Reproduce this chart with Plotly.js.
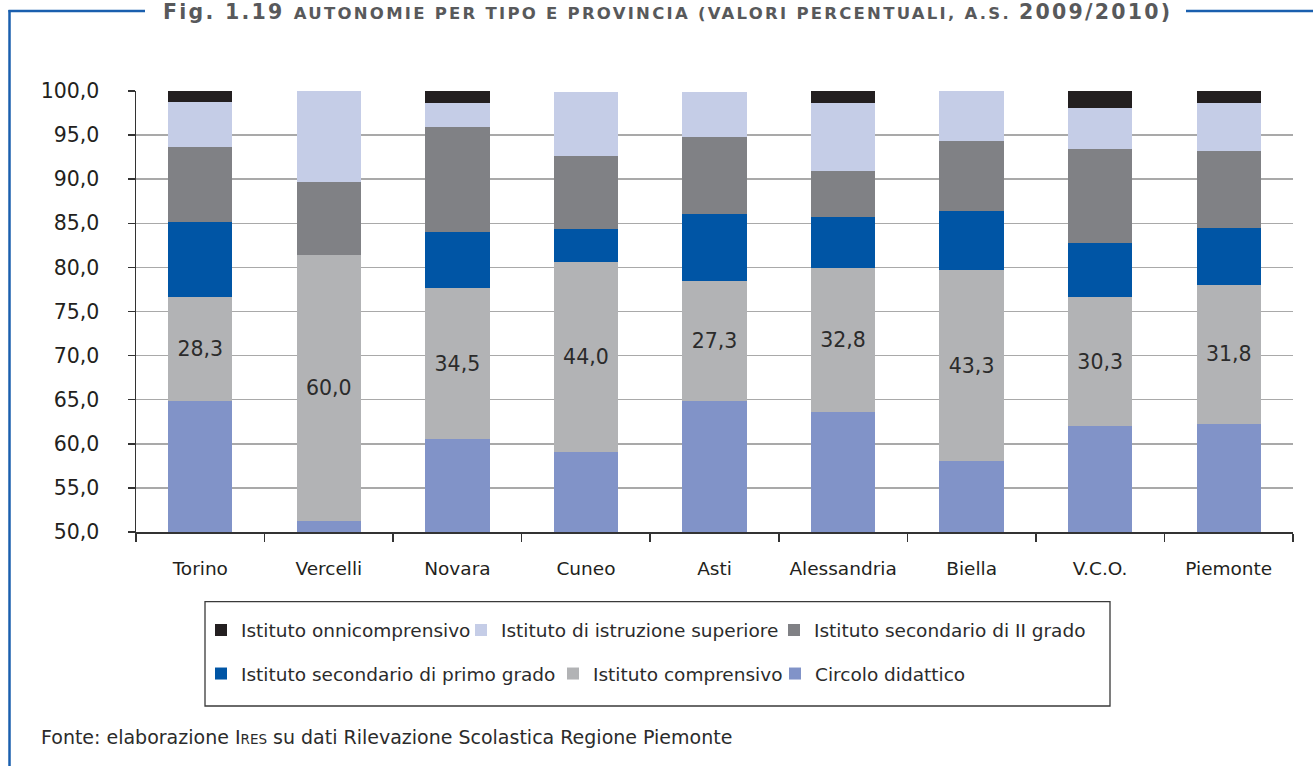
<!DOCTYPE html>
<html>
<head>
<meta charset="utf-8">
<script src="https://cdn.plot.ly/plotly-3.0.1.min.js"></script>
<style>html,body{margin:0;padding:0;background:#fff;}</style>
</head>
<body>
<div id="chart" style="width:1313px;height:766px;"></div>
<script>
// ---- data (stack segments, bottom to top) ----
const categories = ['Torino', 'Vercelli', 'Novara', 'Cuneo', 'Asti', 'Alessandria', 'Biella', 'V.C.O.', 'Piemonte'];
const circoloDidattico      = [64.8, 51.2, 60.5, 59.1, 64.9, 63.6, 58.0, 62.0, 62.3];
const istitutoComprensivo   = [11.8, 30.2, 17.2, 21.5, 13.6, 16.3, 21.7, 14.6, 15.7];
const secondarioPrimoGrado  = [8.5, 0.0, 6.3, 3.8, 7.6, 5.8, 6.7, 6.2, 6.5];
const secondarioIIGrado     = [8.6, 8.3, 11.9, 8.2, 8.7, 5.2, 7.9, 10.6, 8.7];
const istruzioneSuperiore   = [5.0, 10.3, 2.7, 7.3, 5.1, 7.7, 5.7, 4.7, 5.4];
const onnicomprensivo       = [1.4, 0.0, 1.4, 0.0, 0.0, 1.4, 0.0, 1.9, 1.4];
const comprensivoLabels     = [28.3, 60.0, 34.5, 44.0, 27.3, 32.8, 43.3, 30.3, 31.8];
const yTickValues           = [50, 55, 60, 65, 70, 75, 80, 85, 90, 95, 100];

const seriesNames = {
  circolo: 'Circolo didattico',
  comprensivo: 'Istituto comprensivo',
  primo: 'Istituto secondario di primo grado',
  secondo: 'Istituto secondario di II grado',
  iis: 'Istituto di istruzione superiore',
  onni: 'Istituto onnicomprensivo'
};

// ---- geometry helpers ----
const W = 1313, H = 766;
const M = {l: 136, r: 20, t: 91, b: 234};
const PW = W - M.l - M.r, PH = H - M.t - M.b;
const px = x => (x - M.l) / PW;
const py = y => (H - M.b - y) / PH;

const FONT = 'DejaVu Sans, Liberation Sans, sans-serif';
const fmt = v => v.toFixed(1).replace('.', ',');

function bar(name, y, color, legend, extra) {
  return Object.assign({
    type: 'bar', name: name, x: categories, y: y,
    marker: {color: color, line: {width: 0}},
    legend: legend, hoverinfo: 'name+y'
  }, extra || {});
}

const data = [
  bar(seriesNames.circolo, circoloDidattico, '#8193c8', 'legend6'),
  bar(seriesNames.comprensivo, istitutoComprensivo, '#b2b3b5', 'legend5', {
    text: comprensivoLabels.map(fmt),
    textposition: 'inside', insidetextanchor: 'middle', textangle: 0,
    constraintext: 'none',
    textfont: {family: FONT, size: 20.5, color: '#2b2b2b'}
  }),
  bar(seriesNames.primo, secondarioPrimoGrado, '#0055a5', 'legend4'),
  bar(seriesNames.secondo, secondarioIIGrado, '#808185', 'legend3'),
  bar(seriesNames.iis, istruzioneSuperiore, '#c5cde7', 'legend2'),
  bar(seriesNames.onni, onnicomprensivo, '#231f20', 'legend')
];

const frameBlue = '#1a5fae';
const ls = 'letter-spacing:2.25px';
const titleText =
  '<span style="' + ls + '">Fig. 1.19 </span>' +
  '<span style="' + ls + ';font-size:16.5px">AUTONOMIE PER TIPO E PROVINCIA (VALORI PERCENTUALI, A.S. </span>' +
  '<span style="' + ls + '">2009/2010)</span>';

// one legend per entry, placed where the reference legend puts it
function leg(textStartPx, rowCenterPx) {
  return {
    orientation: 'h', xanchor: 'left', yanchor: 'middle',
    x: px(textStartPx - 40), y: py(rowCenterPx),
    bgcolor: 'rgba(0,0,0,0)', borderwidth: 0,
    font: {family: FONT, size: 18.5, color: '#2b2b2b'},
    itemclick: false, itemdoubleclick: false, itemwidth: 30
  };
}
const ROW1 = 630.5, ROW2 = 674;

const layout = {
  width: W, height: H,
  margin: {l: M.l, r: M.r, t: M.t, b: M.b, pad: 0},
  paper_bgcolor: '#ffffff', plot_bgcolor: '#ffffff',
  barmode: 'stack', bargap: 0.5,
  separators: ',.',
  font: {family: FONT, color: '#2b2b2b'},
  showlegend: true,
  title: {
    text: titleText,
    xref: 'container', x: 163 / W, xanchor: 'left',
    yref: 'container', y: 1 - 12 / H, yanchor: 'middle',
    font: {family: FONT, size: 20.5, weight: 700, color: '#58595b'}
  },
  xaxis: {
    type: 'category', tickson: 'boundaries',
    ticks: 'outside', ticklen: 8, tickwidth: 1.5, tickcolor: '#333',
    showline: true, linecolor: '#333', linewidth: 1.5,
    showgrid: false, zeroline: false,
    tickfont: {family: FONT, size: 18.5, color: '#231f20'},
    ticklabelstandoff: 19, fixedrange: true
  },
  yaxis: {
    range: [50, 100], tickvals: yTickValues, tickformat: '.1f',
    ticks: 'outside', ticklen: 7, tickwidth: 1.5, tickcolor: '#333',
    showline: true, linecolor: '#333', linewidth: 1.5,
    showgrid: true, gridcolor: '#a9a9a9', gridwidth: 1.5, zeroline: false,
    tickfont: {family: FONT, size: 20.5, color: '#231f20'},
    ticklabelstandoff: 24, fixedrange: true
  },
  legend:  leg(241, ROW1),
  legend2: leg(501, ROW1),
  legend3: leg(814, ROW1),
  legend4: leg(241, ROW2),
  legend5: leg(593, ROW2),
  legend6: leg(815, ROW2),
  shapes: [
    // legend frame
    {type: 'rect', xref: 'paper', yref: 'paper', x0: px(205), x1: px(1110), y0: py(706), y1: py(601.7),
     line: {color: '#3a3a3a', width: 1.3}, fillcolor: 'rgba(0,0,0,0)'},
    // blue page frame
    {type: 'line', xref: 'paper', yref: 'paper', x0: px(9.5), x1: px(9.5), y0: py(10), y1: py(766),
     line: {color: frameBlue, width: 2.5}},
    {type: 'line', xref: 'paper', yref: 'paper', x0: px(8.5), x1: px(145), y0: py(11), y1: py(11),
     line: {color: frameBlue, width: 2.5}},
    {type: 'line', xref: 'paper', yref: 'paper', x0: px(1186), x1: px(1313), y0: py(11), y1: py(11),
     line: {color: frameBlue, width: 2.5}}
  ],
  annotations: [
    {xref: 'paper', yref: 'paper', x: px(39), y: py(737), xanchor: 'left', yanchor: 'middle',
     showarrow: false,
     text: 'Fonte: elaborazione I<span style="font-size:13.5px">RES</span> su dati Rilevazione Scolastica Regione Piemonte',
     font: {family: FONT, size: 19, color: '#2b2b2b'}}
  ]
};

Plotly.newPlot('chart', data, layout, {staticPlot: true, displayModeBar: false});
</script>
</body>
</html>
